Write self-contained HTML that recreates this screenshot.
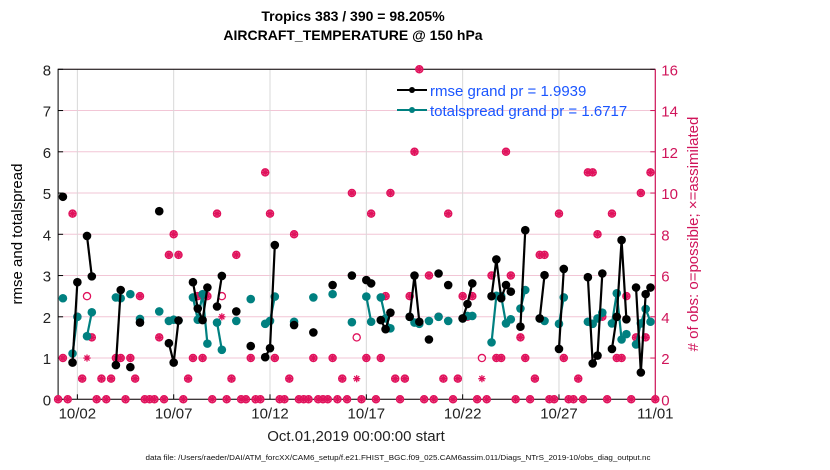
<!DOCTYPE html>
<html><head><meta charset="utf-8"><style>
html,body{margin:0;padding:0;background:#fff;width:830px;height:470px;overflow:hidden}
svg{display:block;font-family:"Liberation Sans",sans-serif}
</style></head><body>
<svg id="chart" width="830" height="470" viewBox="0 0 830 470">
<text x="353" y="21" text-anchor="middle" font-size="14" font-weight="bold">Tropics 383 / 390 = 98.205%</text>
<text x="353" y="40" text-anchor="middle" font-size="14" font-weight="bold">AIRCRAFT_TEMPERATURE @ 150 hPa</text>
<g id="grid"></g>
<g id="axes"></g>
<g id="marks"></g>
<text transform="translate(22,234) rotate(-90)" text-anchor="middle" font-size="15">rmse and totalspread</text>
<text transform="translate(698,234) rotate(-90)" text-anchor="middle" font-size="15" fill="#d0145a"># of obs: o=possible; ×=assimilated</text>
<text x="356" y="441" text-anchor="middle" font-size="15" fill="#222">Oct.01,2019 00:00:00 start</text>
<text x="398" y="460" text-anchor="middle" font-size="7.5" textLength="505" lengthAdjust="spacingAndGlyphs" fill="#111">data file: /Users/raeder/DAI/ATM_forcXX/CAM6_setup/f.e21.FHIST_BGC.f09_025.CAM6assim.011/Diags_NTrS_2019-10/obs_diag_output.nc</text>
<g>
<line x1="397" y1="90" x2="427" y2="90" stroke="#000" stroke-width="2"/>
<circle cx="412" cy="90" r="3" fill="#000"/>
<text x="430" y="96" font-size="15" fill="#1a55ff">rmse grand pr = 1.9939</text>
<line x1="397" y1="110" x2="427" y2="110" stroke="#008080" stroke-width="2"/>
<circle cx="412" cy="110" r="3" fill="#008080"/>
<text x="430" y="116" font-size="15" fill="#1a55ff">totalspread grand pr = 1.6717</text>
</g>
</svg>
<script>
// time step index i -> day offset i*0.25 from Oct 1
const N = null;
const rmse = [N,4.91,N,0.89,2.84,N,3.96,2.98,N,N,N,N,0.83,2.65,N,0.78,N,1.86,N,N,N,4.56,N,1.36,0.89,1.91,N,N,2.84,2.2,1.92,2.71,N,2.25,2.99,N,N,2.13,N,N,1.29,N,N,1.02,1.24,3.74,N,N,N,1.8,N,N,N,1.62,N,N,N,2.77,N,N,N,3.0,N,N,2.89,2.81,N,1.92,1.70,2.1,N,N,N,2.0,3.0,1.88,N,1.45,N,3.05,N,2.77,N,N,1.96,2.31,2.81,N,N,N,2.5,3.39,2.45,2.77,2.61,N,1.76,4.1,N,N,1.96,3.01,N,N,1.22,3.16,N,N,N,N,2.96,0.87,1.06,3.05,N,1.22,2.0,3.86,1.94,N,2.71,0.65,2.55,2.71,N];
const spread = [N,2.45,N,1.11,2.0,N,1.53,2.11,N,N,N,N,2.47,2.45,N,2.55,N,1.95,N,N,N,2.13,N,1.9,1.93,1.91,N,N,2.47,1.93,2.55,1.35,N,1.86,1.2,N,N,1.9,N,N,2.43,N,N,1.83,1.9,2.49,N,N,N,1.88,N,N,N,2.47,N,N,N,2.55,N,N,N,1.87,N,N,2.49,1.88,N,2.47,1.96,1.72,N,N,N,2.0,1.86,1.83,N,1.9,N,2.0,N,1.9,N,N,1.96,2.02,2.02,N,N,N,1.38,2.51,2.5,1.84,1.94,N,2.2,2.65,N,N,1.96,1.9,N,N,1.83,2.47,N,N,N,N,1.88,1.83,1.96,2.1,N,1.84,2.57,1.45,1.58,N,1.33,1.84,2.19,1.88,N];
const possible = [0,2,0,9,4,1,5,3,0,1,0,1,2,2,0,2,1,5,0,0,0,3,0,7,8,7,0,1,2,5,2,5,0,9,5,0,1,7,0,0,2,0,0,11,9,2,0,0,1,8,0,0,0,2,0,0,0,2,0,1,0,10,3,0,2,9,0,2,5,10,1,0,1,5,12,16,0,6,0,4,1,9,0,1,5,4,5,0,2,0,6,2,2,12,6,0,3,2,0,1,7,7,0,0,9,2,0,0,1,0,11,11,8,4,0,9,2,2,5,0,3,10,3,11,0];
const assimilated = [0,2,0,9,4,1,2,3,0,1,0,1,2,2,0,2,1,5,0,0,0,3,0,7,8,7,0,1,2,5,2,5,0,9,4,0,1,7,0,0,2,0,0,11,9,2,0,0,1,8,0,0,0,2,0,0,0,2,0,1,0,10,1,0,2,9,0,2,5,10,1,0,1,5,12,16,0,6,0,4,1,9,0,1,5,4,5,0,1,0,6,2,2,12,6,0,3,2,0,1,7,7,0,0,9,2,0,0,1,0,11,11,8,4,0,9,2,2,5,0,3,10,3,11,0];
const xTickDays = [1,6,11,16,21,26,31];
const xTickLabels = ["10/02","10/07","10/12","10/17","10/22","10/27","11/01"];
const yTicks = [0,1,2,3,4,5,6,7,8];
const y2Ticks = [0,2,4,6,8,10,12,14,16];

const L=58.1,R=655.3,T=69.3,B=399.3;
const xs = d => L + (R-L)*d/31;
const ys = v => B - (B-T)*v/8;
const y2s = v => B - (B-T)*v/16;
const NS="http://www.w3.org/2000/svg";
function mk(tag, attrs, parent){const e=document.createElementNS(NS,tag);for(const k in attrs)e.setAttribute(k,attrs[k]);parent.appendChild(e);return e;}
const grid=document.getElementById('grid'), axes=document.getElementById('axes'), marks=document.getElementById('marks');

y2Ticks.forEach(v=>{
  const g=mk('line',{x1:L,x2:R,y1:y2s(v),y2:y2s(v),stroke:'#f2c6d6','stroke-width':1},grid);
  
  
  const t=mk('line',{x1:R-5,x2:R,y1:y2s(v),y2:y2s(v),stroke:'#d0145a','stroke-width':1},axes);
  
  
  const lb=mk('text',{x:R+6,y:y2s(v)+6,'font-size':15,fill:'#d0145a'},axes);
  lb.textContent=v;
  
  
});
xTickDays.forEach((d,i)=>{
  const g=mk('line',{x1:xs(d),x2:xs(d),y1:T,y2:B,stroke:'#d8d8d8','stroke-width':1},grid);
  
  
  const t=mk('line',{x1:xs(d),x2:xs(d),y1:B,y2:B-5,stroke:'#000'},axes);
  
  
  const lb=mk('text',{x:xs(d),y:B+19,'font-size':15,'text-anchor':'middle',fill:'#222'},axes);
  lb.textContent=xTickLabels[i];
  
  
});
yTicks.forEach(v=>{
  const t=mk('line',{x1:L,x2:L+5,y1:ys(v),y2:ys(v),stroke:'#000'},axes);
  
  
  const lb=mk('text',{x:L-7,y:ys(v)+6,'font-size':15,'text-anchor':'end',fill:'#222'},axes);
  lb.textContent=v;
  
  
});
const box=mk('path',{d:`M${L},${B}V${T}H${R}`,fill:'none',stroke:'#000','stroke-width':1},axes);


const xa=mk('line',{x1:L,x2:R,y1:B,y2:B,stroke:'#000','stroke-width':1},axes);


const ra=mk('line',{x1:R,x2:R,y1:T,y2:B,stroke:'#d0145a','stroke-width':1.2},axes);



// obs counts
const PINK='#e0125c';
possible.forEach((v,i)=>{
  if(v==null)return;
  const cx=xs(i*0.25), cy=y2s(v);
  const c=mk('circle',{cx:cx,cy:cy,r:3.6,fill:'none',stroke:PINK,'stroke-width':1.3},marks);
  
  
});
assimilated.forEach((v,i)=>{
  if(v==null)return;
  const cx=xs(i*0.25), cy=y2s(v), r=3.6;
  let d='';
  for(let a=0;a<4;a++){const an=a*Math.PI/4;d+=`M${cx-r*Math.cos(an)},${cy-r*Math.sin(an)}L${cx+r*Math.cos(an)},${cy+r*Math.sin(an)}`;}
  const p=mk('path',{d:d,stroke:PINK,'stroke-width':1.3,fill:'none'},marks);
  
  
  if(possible[i]===v){
    const f=mk('circle',{cx:cx,cy:cy,r:3.2,fill:PINK,'fill-opacity':0.55},marks);
    
    
  }
});

function series(arr,color,name){
  let seg=[];
  const segs=[];
  arr.forEach((v,i)=>{ if(v==null){ if(seg.length)segs.push(seg); seg=[]; } else seg.push([xs(i*0.25),ys(v)]); });
  if(seg.length)segs.push(seg);
  segs.forEach(s=>{
    if(s.length>1){
      const pl=mk('polyline',{points:s.map(p=>p.join(',')).join(' '),fill:'none',stroke:color,'stroke-width':2.2},marks);
      
      
    }
  });
  arr.forEach((v,i)=>{
    if(v==null)return;
    const c=mk('circle',{cx:xs(i*0.25),cy:ys(v),r:4.3,fill:color},marks);
    
    
  });
}
series(spread,'#008080','totalspread');
series(rmse,'#000000','rmse');
</script>
</body></html>
